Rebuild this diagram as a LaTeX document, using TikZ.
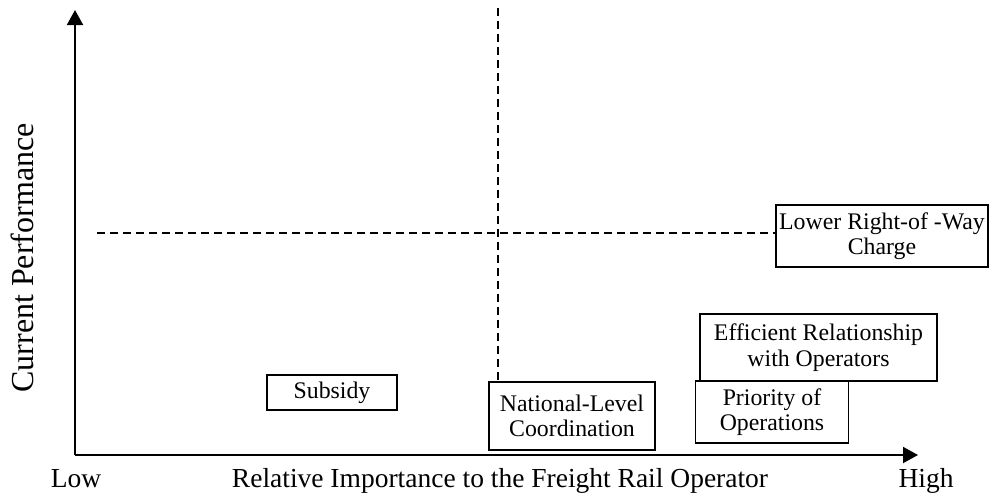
\documentclass[tikz,border=0pt]{standalone}
\usepackage{fontspec}
\setmainfont{Liberation Serif}
\usetikzlibrary{arrows.meta}
\begin{document}
\begin{tikzpicture}[x=1pt,y=-1pt,
  boxnode/.style={draw, line width=1.8pt, inner sep=0pt, align=center,
    font=\fontsize{23.8}{25.5}\selectfont},
  axisline/.style={line width=2pt, -{Triangle[length=15pt,width=16pt]}},
  guide/.style={line width=1.8pt, dash pattern=on 8pt off 5pt},
  axislabel/.style={inner sep=0pt, anchor=base, font=\fontsize{27.5}{30}\selectfont}]
\useasboundingbox (0,0) rectangle (992,499);
\coordinate (origin) at (75,455);
\coordinate (ytip) at (75,10);
\coordinate (xtip) at (918,455);
\coordinate (hstart) at (97,233);
\coordinate (vstart) at (498,8);

\node[boxnode, minimum width=212pt, minimum height=62pt] (lower) at (882,236) {Lower Right-of -Way\\Charge};
\node[boxnode, minimum width=237pt, minimum height=67pt] (eff) at (818.5,347.5) {Efficient Relationship\\with Operators};
\node[boxnode, minimum width=153pt, minimum height=62pt] (prio) at (772,412) {Priority of\\Operations};
\node[boxnode, minimum width=166pt, minimum height=68pt] (nat) at (572,416) {National-Level\\Coordination};
\node[boxnode, minimum width=130pt, minimum height=35pt] (sub) at (332,392.5) {Subsidy};

\draw[axisline] (origin) -- (ytip);
\draw[axisline] (origin) -- (xtip);
\draw[guide] (hstart) -- (hstart -| lower.west);
\draw[guide] (vstart) -- (vstart |- nat.north);

\node[axislabel] (low) at (76,487) {Low};
\node[axislabel] (high) at (926,487) {High};
\node[axislabel] (xlab) at (500,487) {Relative Importance to the Freight Rail Operator};
\node[axislabel, rotate=90, font=\fontsize{32}{35}\selectfont] (ylab) at (33,258) {Current Performance};
\end{tikzpicture}
\end{document}
